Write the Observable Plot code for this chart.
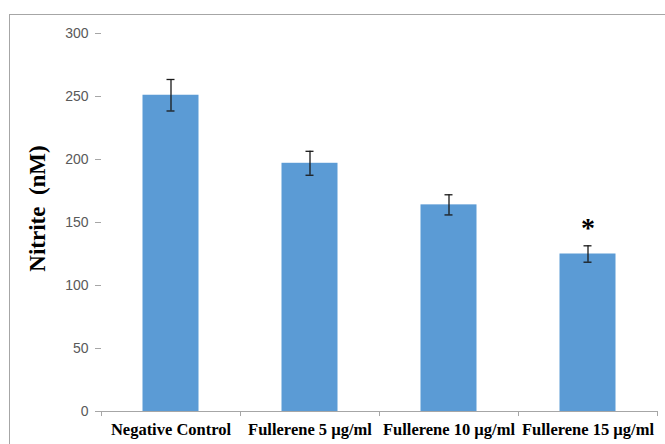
<!DOCTYPE html>
<html>
<head>
<meta charset="utf-8">
<script src="https://cdn.jsdelivr.net/npm/d3@7"></script>
<script src="https://cdn.jsdelivr.net/npm/@observablehq/plot@0.6"></script>
<style>
  html, body { margin: 0; padding: 0; background: #fff; overflow: hidden; }
  #wrap { position: relative; width: 665px; height: 444px; }
  #border { position: absolute; left: 9px; top: 14px; width: 700px; height: 500px; border: 1px solid #a6a6a6; box-sizing: border-box; }
  #chart { position: absolute; left: 0; top: 0; }
</style>
</head>
<body>
<div id="wrap"><div id="border"></div><div id="chart"></div></div>
<script>
const categories = ["Negative Control", "Fullerene 5 µg/ml", "Fullerene 10 µg/ml", "Fullerene 15 µg/ml"];
const values = [251, 197, 164, 125];
const errors = [12.5, 9.5, 8, 6.5];
const yTicks = [0, 50, 100, 150, 200, 250, 300];
const yLabel = "Nitrite  (nM)";
const marks = [{category: "Fullerene 15 µg/ml", value: 146, text: "*"}];

const data = categories.map((c, i) => ({category: c, value: values[i], err: errors[i]}));

const W = 665, H = 444, mL = 101, mR = 8, mT = 33, mB = 33;
const band = (W - mL - mR) / categories.length;
const barInset = (band - 56) / 2;
const capInset = (band - 8) / 2;

const plot = Plot.plot({
  width: W, height: H,
  marginLeft: mL, marginRight: mR, marginTop: mT, marginBottom: mB,
  style: {background: "transparent", overflow: "visible"},
  x: {domain: categories, padding: 0},
  y: {domain: [0, 300]},
  marks: [
    Plot.barY(data, {x: "category", y: "value", fill: "#5b9bd5", insetLeft: barInset, insetRight: barInset}),
    Plot.ruleX(data, {x: "category", y1: d => d.value - d.err, y2: d => d.value + d.err, stroke: "#1a1a1a", strokeWidth: 1.3}),
    Plot.tickY(data, {x: "category", y: d => d.value - d.err, stroke: "#1a1a1a", strokeWidth: 1.3, insetLeft: capInset, insetRight: capInset}),
    Plot.tickY(data, {x: "category", y: d => d.value + d.err, stroke: "#1a1a1a", strokeWidth: 1.3, insetLeft: capInset, insetRight: capInset}),
    Plot.ruleY([0], {stroke: "#a6a6a6", strokeWidth: 1}),
    Plot.ruleX(categories, {x: d => d, y1: 0, y2: -4, dx: -band / 2, stroke: "#a6a6a6"}),
    Plot.ruleX([categories[categories.length - 1]], {x: d => d, y1: 0, y2: -4, dx: band / 2, stroke: "#a6a6a6"}),
    Plot.axisY({ticks: yTicks, tickSize: 6, tickPadding: 7, stroke: "#a6a6a6", label: null,
      fontSize: 14, fontFamily: "Liberation Sans, Arial, sans-serif", fill: "#595959"}),
    Plot.ruleX([0], {frameAnchor: "left", stroke: "#a6a6a6"}),
    Plot.axisX({tickSize: 0, tickPadding: 12, label: null, fontSize: 16.5, fontWeight: "bold",
      fontFamily: "Liberation Serif, Times New Roman, serif", fill: "#000"}),
    Plot.text(marks, {x: "category", y: "value", text: "text", fontSize: 28, fontWeight: "bold",
      fontFamily: "Liberation Serif, serif", fill: "#000"}),
    Plot.text([yLabel], {text: d => d, frameAnchor: "left", textAnchor: "middle", rotate: -90, dx: -64, dy: -14,
      fontSize: 23, fontWeight: "bold", fontFamily: "Liberation Serif, Times New Roman, serif", fill: "#000"})
  ]
});
document.getElementById("chart").appendChild(plot);
</script>
</body>
</html>
